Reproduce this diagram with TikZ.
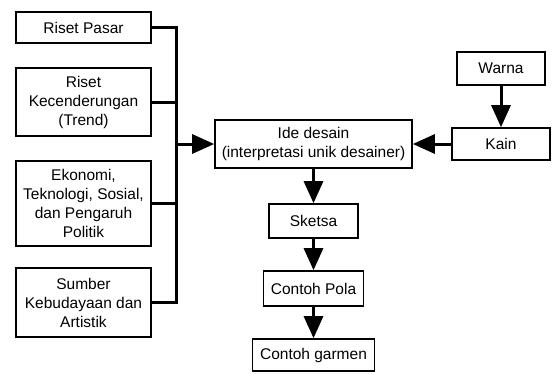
\documentclass[tikz,border=0pt]{standalone}
\usepackage{fontspec}
\setmainfont{Liberation Sans}
\usetikzlibrary{arrows.meta}
\begin{document}
\begin{tikzpicture}[x=1pt,y=-1pt,
  box/.style={draw=black,line width=1.6pt,fill=white,align=center,inner sep=0pt,
    font=\fontsize{15.5}{19}\selectfont},
  conn/.style={line width=3pt},
  arr/.style={line width=3pt,-{Triangle[length=22pt,width=19pt]}}]
\useasboundingbox (0,0) rectangle (557,373);
\node[box,minimum width=135pt,minimum height=31pt] (rp) at (83.5,27.5) {Riset Pasar};
\node[box,minimum width=135pt,minimum height=68pt] (rk) at (83.5,102) {Riset\\Kecenderungan\\(Trend)};
\node[box,minimum width=135pt,minimum height=85pt] (ek) at (83.5,203.5) {Ekonomi,\\Teknologi, Sosial,\\dan Pengaruh\\Politik};
\node[box,minimum width=135pt,minimum height=69pt] (sb) at (83.5,302.5) {Sumber\\Kebudayaan dan\\Artistik};
\node[box,minimum width=197pt,minimum height=48pt] (ide) at (313.5,144) {Ide desain\\(interpretasi unik desainer)};
\node[box,minimum width=98pt,minimum height=32pt] (kain) at (501,144) {Kain};
\node[box,minimum width=88pt,minimum height=33pt] (warna) at (501,68.5) {Warna};
\node[box,minimum width=89pt,minimum height=34pt] (sk) at (313.5,221) {Sketsa};
\node[box,minimum width=100pt,minimum height=35pt] (cp) at (313.5,288.5) {Contoh Pola};
\node[box,minimum width=122pt,minimum height=32pt] (cg) at (313.5,355) {Contoh garmen};
\coordinate (bt) at (176,27.5);
\coordinate (bb) at (176,302.5);
\draw[conn,line join=miter] (rp.east) -- (bt) -- (bb) -- (sb.east);
\draw[conn] (rk.east) -- (rk.east -| bt);
\draw[conn] (ek.east) -- (ek.east -| bt);
\draw[arr] (ide.west -| bt) -- (ide.west);
\draw[arr] (kain.west) -- (ide.east);
\draw[arr] (warna.south) -- (kain.north);
\draw[arr] (ide.south) -- (sk.north);
\draw[arr] (sk.south) -- (cp.north);
\draw[arr] (cp.south) -- (cg.north);
\end{tikzpicture}
\end{document}
